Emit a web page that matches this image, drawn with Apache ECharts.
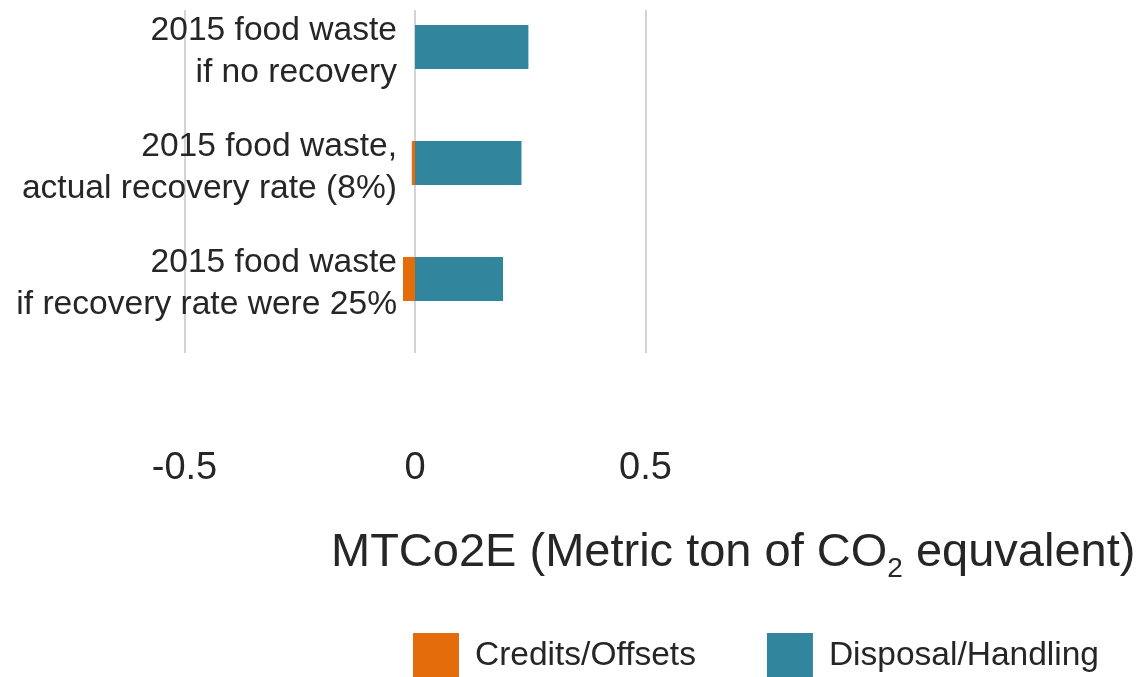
<!DOCTYPE html>
<html>
<head>
<meta charset="utf-8">
<script src="https://cdn.jsdelivr.net/npm/echarts@6/dist/echarts.min.js"></script>
<style>
html,body{margin:0;padding:0;background:#fff;}
#chart{width:1142px;height:677px;}
</style>
</head>
<body>
<div id="chart"></div>
<script>
const categories = [
  '2015 food waste\nif no recovery',
  '2015 food waste,\nactual recovery rate (8%)',
  '2015 food waste\nif recovery rate were 25%'
];
const creditsOffsets = [0, -0.007, -0.026];
const disposalHandling = [0.246, 0.231, 0.191];
const xMin = -0.5, xMax = 0.5, xStep = 0.5;
const seriesNames = ['Credits/Offsets', 'Disposal/Handling'];

const FONT = 'Liberation Sans, Arial, sans-serif';
const chart = echarts.init(document.getElementById('chart'), null, {renderer: 'canvas'});
chart.setOption({
  animation: false,
  backgroundColor: '#ffffff',
  color: ['#E46C0A', '#31859C'],
  title: {
    text: 'MTCo2E (Metric ton of CO{sub|2} equvalent)',
    left: 331,
    top: 523,
    padding: 0,
    textStyle: {
      fontFamily: FONT, fontSize: 47, fontWeight: 'normal', color: '#262626', lineHeight: 60,
      rich: {
        sub: {fontFamily: FONT, fontSize: 28, color: '#262626', verticalAlign: 'bottom', lineHeight: 30}
      }
    }
  },
  legend: {
    data: seriesNames,
    left: 413,
    top: 633,
    padding: 0,
    itemWidth: 46,
    itemHeight: 46,
    itemGap: 71,
    icon: 'rect',
    textStyle: {fontFamily: FONT, fontSize: 33.5, color: '#262626', padding: [0, 0, 0, 11]}
  },
  grid: [
    {left: 184.5, right: 496.5, top: -11, height: 348, containLabel: false, outerBoundsMode: 'none'},
    {left: 184.5, right: 496.5, top: 10, height: 343, containLabel: false, outerBoundsMode: 'none'},
    {left: 184.5, right: 496.5, top: -6, height: 348, containLabel: false, outerBoundsMode: 'none'}
  ],
  xAxis: [
    {gridIndex: 0, type: 'value', min: xMin, max: xMax, interval: xStep, show: false},
    {gridIndex: 1, type: 'value', min: xMin, max: xMax, interval: xStep,
     axisLine: {show: false, onZero: false}, axisTick: {show: false},
     splitLine: {show: true, lineStyle: {color: '#d4d4d4', width: 2}},
     axisLabel: {margin: 97, fontFamily: FONT, fontSize: 38, color: '#262626'}},
    {gridIndex: 2, type: 'value', min: xMin, max: xMax, interval: xStep, show: false}
  ],
  yAxis: [
    {gridIndex: 0, type: 'category', data: categories, inverse: true,
     axisLine: {show: false, onZero: false}, axisTick: {show: false},
     splitLine: {show: false}, axisLabel: {show: false}},
    {gridIndex: 1, type: 'value', min: 0, max: 1, show: false},
    {gridIndex: 2, type: 'category', data: categories, inverse: true,
     axisLine: {show: false, onZero: false}, axisTick: {show: false},
     splitLine: {show: false},
     axisLabel: {margin: -212.5, align: 'right', color: '#262626',
                 fontFamily: FONT, fontSize: 33.6, lineHeight: 42}}
  ],
  series: [
    {name: seriesNames[0], type: 'bar', stack: 'total', xAxisIndex: 0, yAxisIndex: 0,
     barWidth: 44, data: creditsOffsets, itemStyle: {color: '#E46C0A'}},
    {name: seriesNames[1], type: 'bar', stack: 'total', xAxisIndex: 0, yAxisIndex: 0,
     barWidth: 44, data: disposalHandling, itemStyle: {color: '#31859C'}}
  ]
});
</script>
</body>
</html>
